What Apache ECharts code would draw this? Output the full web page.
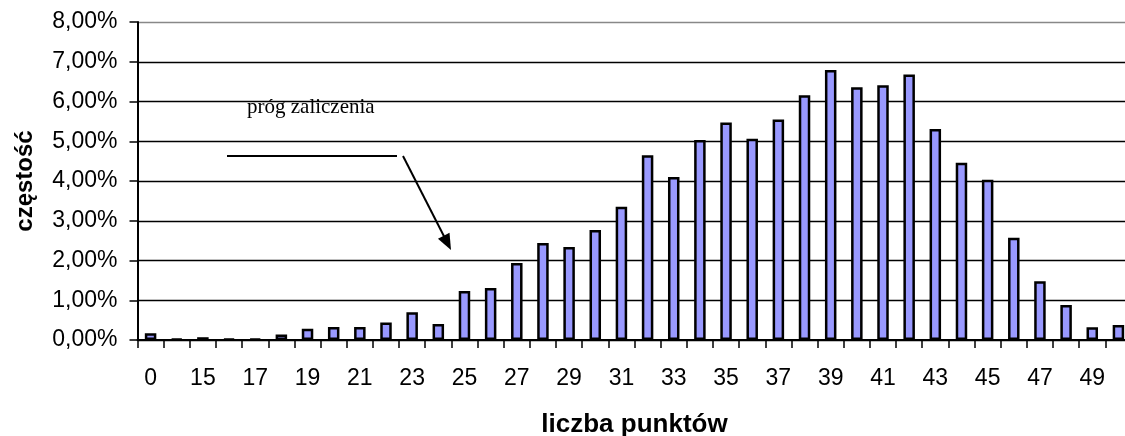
<!DOCTYPE html>
<html>
<head>
<meta charset="utf-8">
<script src="https://cdn.jsdelivr.net/npm/echarts@6/dist/echarts.min.js"></script>
<style>
html,body{margin:0;padding:0;background:#fff;}
#chart{width:1125px;height:436px;}
</style>
</head>
<body>
<div id="chart"></div>
<script>
// Categories (points scored)
const categories = ['0','14','15','16','17','18','19','20','21','22','23','24','25','26','27','28','29','30','31','32','33','34','35','36','37','38','39','40','41','42','43','44','45','46','47','48','49','50'];
// Frequency in percent
const frequency = [0.17,0.03,0.07,0.03,0.03,0.14,0.28,0.33,0.33,0.44,0.70,0.40,1.23,1.31,1.94,2.44,2.34,2.77,3.35,4.65,4.10,5.03,5.47,5.06,5.55,6.16,6.79,6.36,6.41,6.68,5.31,4.46,4.03,2.57,1.48,0.88,0.32,0.38];
// Y axis range (percent)
const yMin = 0, yMax = 8, yStep = 1;
const xTitle = 'liczba punktów';
const yTitle = 'częstość';
const noteText = 'próg zaliczenia';

const chart = echarts.init(document.getElementById('chart'), null, {renderer:'canvas'});
const sans = '"Liberation Sans", Arial, sans-serif';
const serif = '"Liberation Serif", "Times New Roman", serif';

// arrow geometry
const ax0 = 403, ay0 = 156, ax1 = 451, ay1 = 250;
const dx = ax1-ax0, dy = ay1-ay0, L = Math.hypot(dx,dy), ux = dx/L, uy = dy/L;
const hl = 16, hw = 6.5;
const bx = ax1-ux*hl, by = ay1-uy*hl;

chart.setOption({
  animation:false,
  backgroundColor:'#fff',
  grid:{left:137.5, top:22, width:994, bottom:96, containLabel:false, outerBoundsMode:'none'},
  xAxis:{
    type:'category',
    data:categories,
    boundaryGap:true,
    name:xTitle,
    nameLocation:'middle',
    nameGap:72,
    nameTextStyle:{fontFamily:sans,fontWeight:'bold',fontSize:26,color:'#000'},
    axisLine:{show:true,lineStyle:{color:'#000',width:2}},
    axisTick:{show:true,interval:0,length:8,inside:false,lineStyle:{color:'#000',width:1.5}},
    axisLabel:{interval:1,margin:27,fontFamily:sans,fontSize:23,color:'#000'},
    splitLine:{show:false}
  },
  yAxis:{
    type:'value',
    min:yMin,max:yMax,interval:yStep,
    name:yTitle,
    nameLocation:'middle',
    nameRotate:90,
    nameGap:100,
    nameTextStyle:{fontFamily:sans,fontWeight:'bold',fontSize:24,color:'#000'},
    axisLine:{show:true,lineStyle:{color:'#000',width:2}},
    axisTick:{show:true,length:8,inside:false,lineStyle:{color:'#000',width:1.5}},
    axisLabel:{margin:20,fontFamily:sans,fontSize:23,color:'#000',
      formatter:v=>v.toFixed(2).replace('.',',')+'%'},
    splitLine:{show:true,lineStyle:{color:['#000','#000','#000','#000','#000','#000','#000','#000','#888'],width:1.3}}
  },
  series:[{
    type:'bar',
    data:frequency,
    barWidth:11.5,
    itemStyle:{color:'#9999FF',borderColor:'#000',borderWidth:2.5},
    silent:true
  }],
  graphic:[
    {type:'text',left:247,top:97,style:{text:noteText,font:'21px '+serif,fill:'#000'}},
    {type:'line',shape:{x1:227,y1:156,x2:397,y2:156},style:{stroke:'#000',lineWidth:2}},
    {type:'line',shape:{x1:ax0,y1:ay0,x2:bx+ux*2,y2:by+uy*2},style:{stroke:'#000',lineWidth:2}},
    {type:'polygon',shape:{points:[[ax1,ay1],[bx-uy*hw,by+ux*hw],[bx+uy*hw,by-ux*hw]]},style:{fill:'#000'}}
  ]
});
</script>
</body>
</html>
